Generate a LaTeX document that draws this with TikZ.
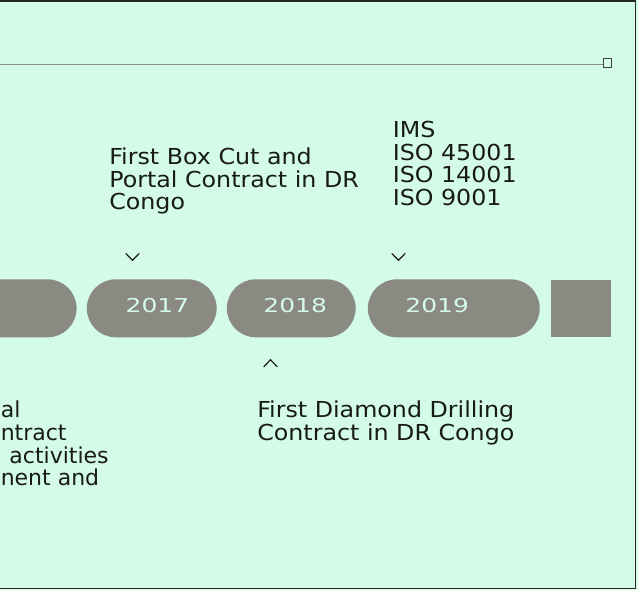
\documentclass[tikz,border=0pt]{standalone}
\usepackage{fontspec}
\setmainfont{DejaVu Sans}[FakeStretch=1.08]
\newfontfamily\yearfont{DejaVu Sans}[FakeStretch=1.3]
\newfontfamily\narrowfont{DejaVu Sans}
\usepackage{xcolor}
\usetikzlibrary{positioning}
\definecolor{mintbg}{RGB}{212,251,232}
\definecolor{pillgray}{RGB}{138,138,130}
\definecolor{yeartext}{RGB}{214,250,232}
\definecolor{notetext}{RGB}{24,26,25}
\definecolor{rulegray}{RGB}{140,142,140}

\begin{document}
\begin{tikzpicture}[x=0.75pt,y=-0.75pt,
                    pill node/.style={rectangle,fill=pillgray,minimum height=43.5pt,
                                      rounded corners=21.75pt,inner sep=0pt,outer sep=0pt},
                    year node/.style={text=yeartext,inner sep=0pt,
                                      font=\yearfont\fontsize{14.4}{16}\selectfont},
                    note node/.style={anchor=north west,align=left,inner sep=0pt,text=notetext,
                                      font=\fontsize{16.5}{16.9}\selectfont},
                    chev/.style={draw=notetext,line width=0.9pt}]
  \useasboundingbox (0,0) rectangle (638,590);
  \clip (0,0) rectangle (638,590);
  \fill[mintbg] (0,0) rectangle (638,590);
  % frame (left side cut off)
  \draw[black!85,line width=1.1pt] (0,1) -- (635.5,1) -- (635.5,588.3) -- (0,588.3);

  % top rule with end marker
  \coordinate (r0) at (0,64.3);
  \node[draw=black!75,line width=0.8pt,minimum size=6.3pt,inner sep=0pt] (rend) at (607.5,63) {};
  \draw[rulegray,line width=1.1pt] (r0) -- (r0 -| rend.west);

  % timeline pills
  \node[pill node,minimum width=96.75pt] (p2016) at (12.1,308.3) {};
  \node[pill node,minimum width=97.4pt,right=7.65pt of p2016] (p2017) {};
  \node[pill node,minimum width=96.6pt,right=7.65pt of p2017] (p2018) {};
  \node[pill node,minimum width=128.9pt,right=9.15pt of p2018] (p2019) {};
  \node[fill=pillgray,minimum width=45.2pt,minimum height=43pt,inner sep=0pt,outer sep=0pt,
        right=8.55pt of p2019] (p2020) {};

  \node[year node] (y2017) at (157.5,305.3) {2017};
  \node[year node] (y2018) at (295.2,305.3) {2018};
  \node[year node] (y2019) at (437.2,305.3) {2019};

  % notes
  \node[note node] (boxcut) at (109,147.6) {First Box Cut and\\Portal Contract in DR\\Congo};
  \node[note node] (iso) at (392.5,121.2) {IMS\\ISO 45001\\ISO 14001\\ISO 9001};
  \node[note node] (diamond) at (257,401) {First Diamond Drilling\\Contract in DR Congo};
  \node[note node,font=\narrowfont\fontsize{16.5}{16.9}\selectfont] (portal) at (0.5,401)
    {al\\ntract\\\hspace*{6.5pt}activities\\nent and};

  % markers
  \foreach \x/\y/\d in {132.5/256.8/1, 398.5/256.8/1, 270.5/363.3/-1}
    \draw[chev] (\x-6.8,\y-3.5*\d) -- (\x,\y+3.5*\d) -- (\x+6.8,\y-3.5*\d);
\end{tikzpicture}
\end{document}
